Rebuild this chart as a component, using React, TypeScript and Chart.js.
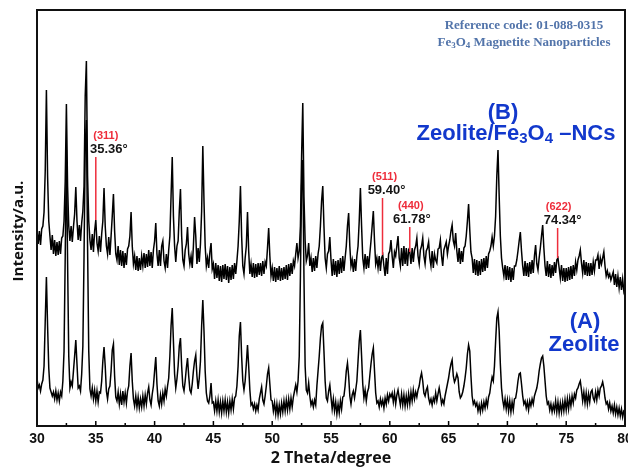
import { useEffect, useRef } from 'react';
import { Chart, registerables } from 'chart.js';

Chart.register(...registerables);

// 2θ sampling grid (degrees)
const twoTheta: number[] = Array.from({ length: 501 }, (_, i) => Math.round((30 + i * 0.1) * 10) / 10);

// (B) Zeolite/Fe3O4-NCs, intensity (a.u.), one row per degree
const zeoliteFe3O4: number[] = [
  196,182,195,181,197,200,214,255,336,250,
  205,190,176,191,172,186,170,184,171,185,
  172,188,190,205,245,322,240,200,185,200,
  184,199,212,239,205,186,201,185,203,215,
  240,330,365,250,205,186,176,192,174,195,
  206,183,175,190,174,192,205,238,200,180,
  172,189,171,190,210,232,195,172,166,180,
  161,176,160,175,158,173,161,177,180,190,
  214,180,162,170,156,170,155,168,156,170,
  160,173,158,172,159,176,160,174,158,176,
  185,203,172,160,176,160,180,185,165,158,
  172,158,176,190,230,269,210,180,164,180,
  185,215,237,190,166,160,176,182,199,172,
  162,170,158,180,209,190,162,178,164,182,
  215,280,225,180,160,168,158,174,183,157,
  162,147,163,148,161,145,160,144,161,147,
  162,146,160,143,159,146,161,147,163,152,
  165,180,205,240,190,160,152,168,180,214,
  175,152,162,149,163,148,162,149,163,151,
  163,150,165,152,164,160,178,198,170,150,
  158,145,159,144,158,146,160,145,158,146,
  159,147,161,146,162,150,163,152,165,160,
  172,183,168,175,200,270,323,230,185,165,
  170,183,160,168,154,168,155,170,158,172,
  180,200,225,240,200,168,158,172,175,189,
  166,150,167,151,165,149,166,152,168,153,
  170,155,168,180,200,213,180,160,166,154,
  167,155,170,180,205,238,200,168,158,172,
  157,170,158,172,185,200,215,185,162,168,
  158,170,155,168,171,160,150,168,152,172,
  175,186,170,158,174,170,180,190,168,160,
  178,160,180,162,178,160,176,174,162,178,
  164,176,180,188,170,162,176,180,188,170,
  162,175,178,184,168,160,175,158,172,166,
  163,177,178,186,170,160,176,180,184,172,
  180,186,195,201,185,180,193,175,164,178,
  162,175,164,178,180,190,205,222,196,174,
  168,153,167,151,166,150,165,151,167,154,
  168,155,170,158,172,175,180,189,180,190,
  210,250,276,230,190,168,158,150,161,146,
  160,146,159,144,158,146,160,160,166,175,
  185,194,175,160,150,165,150,163,149,164,
  152,166,153,170,181,162,156,168,178,190,
  201,178,160,150,165,149,162,148,161,150,
  164,153,166,168,158,148,161,145,158,144,
  158,145,159,146,160,147,161,150,164,156,
  166,170,176,163,153,166,151,164,150,163,
  150,163,151,164,155,166,166,171,157,168,
  162,168,174,160,150,155,149,152,146,150,
  154,141,152,139,150,138,149,136,147,135,
  140,
];

// (A) Zeolite, intensity (a.u.)
const zeolite: number[] = [
  48,38,41,35,42,46,60,105,149,100,
  58,38,34,30,34,27,35,26,33,25,
  34,30,45,75,170,276,165,70,38,44,
  40,55,70,86,62,38,40,35,52,80,
  170,280,306,180,75,37,30,38,27,36,
  25,35,24,34,33,45,65,79,60,35,
  27,37,40,55,76,82,50,29,25,34,
  22,32,21,35,24,33,23,35,40,60,
  73,45,27,20,30,19,29,18,27,19,
  30,20,31,22,33,39,26,21,32,40,
  55,69,42,25,20,31,22,33,25,37,
  30,40,48,70,100,118,85,52,38,47,
  60,80,88,60,40,35,45,58,68,50,
  36,33,42,55,65,71,50,37,48,65,
  100,126,95,55,33,25,23,30,43,23,
  24,15,25,15,26,14,24,13,25,15,
  26,14,24,13,25,16,27,17,28,30,
  40,60,90,104,70,45,36,45,62,81,
  60,36,21,23,17,22,15,21,16,27,
  33,39,26,22,30,40,52,58,42,26,
  25,15,23,12,22,11,21,12,23,14,
  25,15,26,16,27,17,28,19,29,35,
  41,34,45,70,150,240,266,150,60,36,
  33,43,30,21,25,19,26,21,40,55,
  70,88,100,103,75,45,28,25,35,41,
  29,17,27,15,24,12,22,13,25,17,
  29,30,40,55,63,50,30,22,31,35,
  28,36,45,65,85,96,70,42,28,36,
  25,34,38,50,62,72,78,55,33,23,
  25,19,27,21,26,18,28,22,31,25,
  32,29,33,24,33,22,31,36,28,21,
  32,21,31,20,30,21,32,22,34,25,
  36,27,34,29,36,40,48,53,45,33,
  30,36,39,28,23,27,21,28,24,33,
  25,32,38,31,22,26,22,30,36,42,
  48,56,62,66,50,44,47,52,48,34,
  28,30,34,40,48,58,72,81,75,50,
  30,22,25,20,23,15,21,14,23,16,
  24,18,26,20,29,33,42,49,45,60,
  85,108,114,95,62,38,26,19,27,17,
  26,15,25,14,24,16,27,28,35,45,
  52,53,42,30,22,25,18,24,16,25,
  20,27,22,30,34,38,45,55,62,68,
  70,60,45,30,22,24,16,22,14,21,
  15,25,14,24,13,23,14,24,15,26,
  16,27,17,28,20,30,23,32,28,36,
  38,42,45,36,25,34,23,33,22,32,
  24,34,36,28,25,34,26,36,30,38,
  40,44,38,28,22,24,17,23,15,20,
  13,21,12,19,11,18,10,17,9,15,
  14,
];

const xTickValues: number[] = [30, 35, 40, 45, 50, 55, 60, 65, 70, 75, 80];
const xMinorTickValues: number[] = [32.5, 37.5, 42.5, 47.5, 52.5, 57.5, 62.5, 67.5, 72.5, 77.5];

// Fe3O4 reflections marked on trace (B)
const hklLabels: string[] = ['(311)', '(511)', '(440)', '(622)'];
const hklAngleText: string[] = ['35.36°', '59.40°', '61.78°', '74.34°'];
const hklMarkAt: number[] = [35.0, 59.38, 61.7, 74.27];
const hklMarkTop: number[] = [269, 228, 199, 198];
const hklMarkBottom: number[] = [206, 171, 174, 168];

// layout of annotation text (pixels)
const hklLabelDx: number[] = [10, 2, 1, 1];
const hklValueDx: number[] = [13, 4, 2, 5];

const RED = '#ee2d3b';
const BLUE = '#1238cc';
const REFBLUE = '#5274aa';

type Part = { t: string; sub?: boolean };

function drawRich(ctx: CanvasRenderingContext2D, parts: Part[], cx: number, cy: number, font: string, subFont: string, subDy: number) {
  let w = 0;
  for (const p of parts) {
    ctx.font = p.sub ? subFont : font;
    w += ctx.measureText(p.t).width;
  }
  let x = cx - w / 2;
  ctx.textAlign = 'left';
  ctx.textBaseline = 'middle';
  for (const p of parts) {
    ctx.font = p.sub ? subFont : font;
    ctx.fillText(p.t, x, p.sub ? cy + subDy : cy);
    x += ctx.measureText(p.t).width;
  }
}

const decorPlugin = {
  id: 'decor',
  afterDraw(chart: any) {
    const { ctx, chartArea: a, scales } = chart;
    const x = scales.x;
    const y = scales.y;
    ctx.save();
    // inward tick marks
    ctx.strokeStyle = '#000';
    ctx.lineWidth = 1.5;
    for (const v of xTickValues) {
      const px = x.getPixelForValue(v);
      ctx.beginPath(); ctx.moveTo(px, a.bottom); ctx.lineTo(px, a.bottom - 5); ctx.stroke();
    }
    for (const v of xMinorTickValues) {
      const px = x.getPixelForValue(v);
      ctx.beginPath(); ctx.moveTo(px, a.bottom); ctx.lineTo(px, a.bottom - 3); ctx.stroke();
    }
    // frame
    ctx.lineWidth = 2;
    ctx.strokeStyle = '#111';
    ctx.strokeRect(a.left, a.top, a.right - a.left, a.bottom - a.top);

    // y axis title
    ctx.save();
    ctx.translate(19, 231);
    ctx.rotate(-Math.PI / 2);
    ctx.fillStyle = '#111';
    ctx.font = 'bold 15px "Open Sans", sans-serif';
    ctx.textAlign = 'center';
    ctx.textBaseline = 'middle';
    ctx.fillText('Intensity/a.u.', 0, 0);
    ctx.restore();

    // hkl marks
    for (let i = 0; i < hklLabels.length; i++) {
      const px = x.getPixelForValue(hklMarkAt[i]);
      const top = y.getPixelForValue(hklMarkTop[i]);
      const bot = y.getPixelForValue(hklMarkBottom[i]);
      ctx.strokeStyle = RED;
      ctx.lineWidth = 1.5;
      ctx.beginPath(); ctx.moveTo(px, top); ctx.lineTo(px, bot); ctx.stroke();
      ctx.textAlign = 'center';
      ctx.textBaseline = 'middle';
      ctx.fillStyle = RED;
      ctx.font = 'bold 11px "Liberation Sans", Arial, sans-serif';
      ctx.fillText(hklLabels[i], px + hklLabelDx[i], top - 21);
      ctx.fillStyle = '#151515';
      ctx.font = 'bold 13px "Liberation Sans", Arial, sans-serif';
      ctx.fillText(hklAngleText[i], px + hklValueDx[i], top - 8);
    }

    // sample labels
    ctx.fillStyle = BLUE;
    ctx.textAlign = 'center';
    ctx.textBaseline = 'middle';
    const big = 'bold 22px "Liberation Sans", Arial, sans-serif';
    const bigSub = 'bold 15px "Liberation Sans", Arial, sans-serif';
    ctx.font = big;
    ctx.fillText('(B)', 503, 113);
    drawRich(ctx, [{ t: 'Zeolite/Fe' }, { t: '3', sub: true }, { t: 'O' }, { t: '4', sub: true }, { t: ' \u2013NCs' }], 516, 134, big, bigSub, 5);
    ctx.font = big;
    ctx.textAlign = 'center';
    ctx.fillText('(A)', 585, 322);
    ctx.fillText('Zeolite', 584, 345);

    // reference code text
    ctx.fillStyle = REFBLUE;
    ctx.font = 'bold 13px "Liberation Serif", "Times New Roman", serif';
    ctx.textAlign = 'center';
    ctx.fillText('Reference code: 01-088-0315', 524, 26);
    drawRich(ctx, [{ t: 'Fe' }, { t: '3', sub: true }, { t: 'O' }, { t: '4', sub: true }, { t: ' Magnetite Nanoparticles' }], 524, 43,
      'bold 13px "Liberation Serif", "Times New Roman", serif', 'bold 9px "Liberation Serif", "Times New Roman", serif', 3);
    ctx.restore();
  },
};

export default function App() {
  const ref = useRef<HTMLCanvasElement | null>(null);
  useEffect(() => {
    if (!ref.current) return;
    const chart = new Chart(ref.current, {
      type: 'line',
      data: {
        datasets: [
          {
            label: 'Zeolite/Fe3O4-NCs',
            data: twoTheta.map((t, i) => ({ x: t, y: zeoliteFe3O4[i] })),
            borderColor: '#000',
            borderWidth: 1.5,
            pointRadius: 0,
            tension: 0,
          },
          {
            label: 'Zeolite',
            data: twoTheta.map((t, i) => ({ x: t, y: zeolite[i] })),
            borderColor: '#000',
            borderWidth: 1.5,
            pointRadius: 0,
            tension: 0,
          },
        ],
      },
      options: {
        responsive: false,
        animation: false,
        devicePixelRatio: 1,
        layout: { padding: { top: 10, right: 3, left: 0, bottom: 0 } },
        plugins: { legend: { display: false }, tooltip: { enabled: false } },
        scales: {
          x: {
            type: 'linear',
            min: 30,
            max: 80,
            grid: { display: false, drawTicks: false },
            border: { display: false },
            afterBuildTicks: (s: any) => { s.ticks = xTickValues.map((v) => ({ value: v })); },
            ticks: {
              maxRotation: 0,
              autoSkip: false,
              padding: 5,
              color: '#111',
              font: { family: '"Liberation Sans Narrow", "Liberation Sans", Arial, sans-serif', size: 14, weight: 'bold' },
            },
            title: {
              display: true,
              text: '2 Theta/degree',
              color: '#111',
              padding: { top: 0, bottom: 0 },
              font: { family: '"Open Sans", sans-serif', size: 16, weight: 'bold' },
            },
            afterFit: (s: any) => { s.height = 42; s.paddingLeft = 0; s.paddingRight = 0; },
          },
          y: {
            min: 0,
            max: 416,
            grid: { display: false, drawTicks: false },
            border: { display: false },
            ticks: { display: false },
            afterFit: (s: any) => { s.width = 37; s.paddingTop = 0; s.paddingBottom = 0; },
          },
        },
      },
      plugins: [decorPlugin],
    });
    return () => chart.destroy();
  }, []);
  return (
    <div style={{ position: 'fixed', left: 0, top: 0, width: 628, height: 468, background: '#fff' }}>
      <canvas ref={ref} width={628} height={468} />
    </div>
  );
}
